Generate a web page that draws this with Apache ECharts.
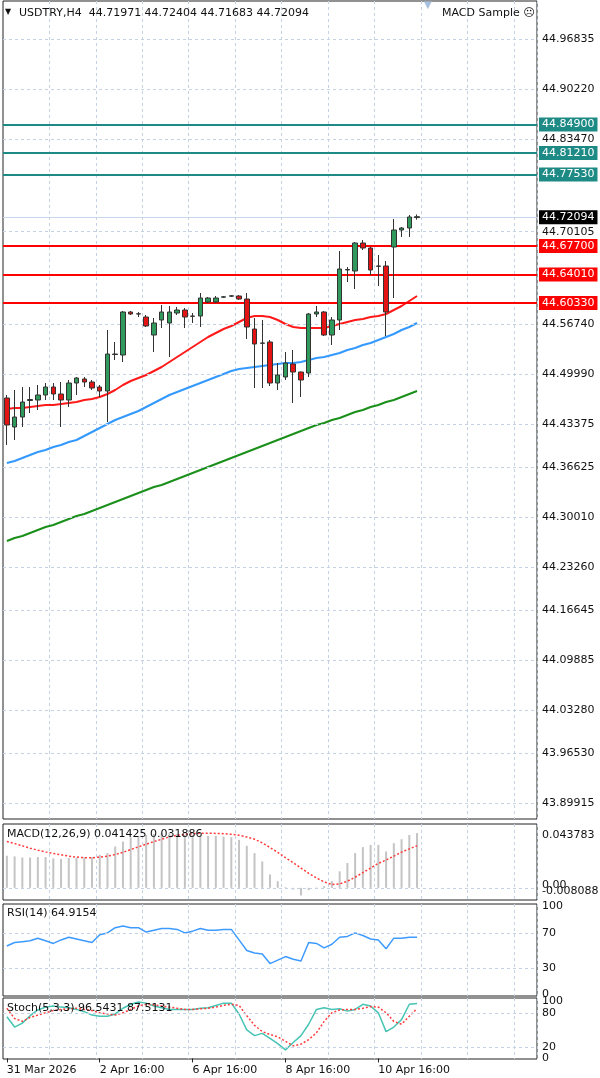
<!DOCTYPE html>
<html><head><meta charset="utf-8">
<script src="https://cdn.jsdelivr.net/npm/echarts@6/dist/echarts.min.js"></script>
<style>html,body{margin:0;padding:0;background:#fff}#c{width:600px;height:1078px}</style>
</head><body><div id="c"></div>
<script>
const opens=[44.4671,44.4265,44.4405,44.4636,44.4643,44.4713,44.4825,44.4727,44.4643,44.4881,44.4937,44.4895,44.4825,44.4769,44.5287,44.5273,44.5875,44.5847,44.5805,44.5553,44.5763,44.5721,44.5861,44.5903,44.5819,44.5819,44.6015,44.6015,44.6082,44.6096,44.6099,44.6057,44.5637,44.5441,44.5455,44.4881,44.4965,44.5147,44.5035,44.5021,44.5847,44.5875,44.5553,44.5763,44.6463,44.6449,44.6841,44.6771,44.6519,44.6519,44.6785,44.7023,44.7051,44.71971];
const closes=[44.4293,44.4405,44.4615,44.4650,44.4713,44.4825,44.4727,44.4643,44.4881,44.4951,44.4895,44.4811,44.4769,44.5287,44.5280,44.5875,44.5847,44.5850,44.5679,44.5721,44.5875,44.5875,44.5903,44.5805,44.5815,44.6071,44.6071,44.6071,44.6088,44.6102,44.6057,44.5665,44.5427,44.5437,44.4881,44.4993,44.5161,44.5035,44.4923,44.5847,44.5875,44.5553,44.5763,44.6477,44.6470,44.6841,44.6771,44.6463,44.6515,44.5875,44.7023,44.7051,44.7205,44.72094];
const lows=[44.4013,44.4083,44.4265,44.4461,44.4503,44.4643,44.4643,44.4265,44.4545,44.4713,44.4825,44.4783,44.4685,44.4335,44.5203,44.5175,44.5833,44.5805,44.5665,44.5315,44.5651,44.5245,44.5833,44.5651,44.5721,44.5665,44.6001,44.6001,44.6071,44.6085,44.6043,44.5497,44.4811,44.4811,44.4839,44.4783,44.4923,44.4601,44.4685,44.4965,44.5805,44.5539,44.5413,44.5623,44.6295,44.6197,44.6743,44.6393,44.6239,44.5539,44.6071,44.6925,44.6925,44.71683];
const highs=[44.4713,44.4783,44.4825,44.4825,44.4853,44.4881,44.4881,44.4895,44.4923,44.4965,44.4965,44.4923,44.4853,44.5623,44.5455,44.5889,44.5889,44.5875,44.5833,44.5791,44.5973,44.5959,44.5945,44.5931,44.5861,44.6141,44.6085,44.6099,44.6099,44.6113,44.6113,44.6141,44.5791,44.5763,44.5483,44.5161,44.5315,44.5343,44.5040,44.5861,44.5959,44.5889,44.5805,44.6729,44.6505,44.6855,44.6883,44.6785,44.6673,44.6589,44.7177,44.7065,44.7233,44.72404];
const maRed=[44.4517,44.4531,44.4531,44.4545,44.4559,44.4573,44.4573,44.4587,44.4601,44.4615,44.4643,44.4657,44.4685,44.4727,44.4783,44.4853,44.4909,44.4951,44.4993,44.5049,44.5105,44.5175,44.5245,44.5315,44.5385,44.5455,44.5525,44.5581,44.5637,44.5679,44.5735,44.5791,44.5819,44.5819,44.5805,44.5763,44.5707,44.5665,44.5651,44.5651,44.5651,44.5651,44.5679,44.5707,44.5735,44.5763,44.5777,44.5805,44.5819,44.5847,44.5903,44.5959,44.6029,44.6099];
const maBlue=[44.3761,44.3789,44.3831,44.3873,44.3915,44.3943,44.3985,44.4013,44.4055,44.4083,44.4139,44.4195,44.4251,44.4307,44.4363,44.4405,44.4447,44.4489,44.4545,44.4601,44.4657,44.4713,44.4755,44.4797,44.4839,44.4881,44.4923,44.4965,44.5007,44.5049,44.5077,44.5091,44.5105,44.5119,44.5133,44.5147,44.5161,44.5161,44.5175,44.5203,44.5231,44.5245,44.5273,44.5301,44.5343,44.5371,44.5413,44.5441,44.5483,44.5525,44.5567,44.5623,44.5665,44.5721];
const maGreen=[44.2669,44.2711,44.2739,44.2781,44.2823,44.2865,44.2893,44.2935,44.2977,44.3019,44.3047,44.3089,44.3131,44.3173,44.3215,44.3257,44.3299,44.3341,44.3383,44.3425,44.3453,44.3495,44.3537,44.3579,44.3621,44.3663,44.3705,44.3747,44.3789,44.3831,44.3873,44.3915,44.3957,44.3999,44.4041,44.4083,44.4125,44.4167,44.4209,44.4251,44.4293,44.4321,44.4363,44.4391,44.4433,44.4475,44.4503,44.4545,44.4573,44.4615,44.4643,44.4685,44.4727,44.4769];
const macdHist=[.0243,.0238,.0230,.0230,.0233,.0233,.0223,.0218,.0225,.0230,.0233,.0233,.0250,.0263,.0313,.0350,.0383,.0393,.0400,.0408,.0413,.0413,.0408,.0400,.0400,.0395,.0393,.0393,.0388,.0383,.0363,.0318,.0263,.0200,.0100,.0050,.0005,-.0013,-.0058,-.0018,.0003,.0013,.0050,.0125,.0188,.0263,.0308,.0325,.0325,.0275,.0338,.0368,.0400,.041425];
const macdSignal=[.0350,.0335,.0318,.0300,.0285,.0272,.0260,.0250,.0240,.0233,.0228,.0228,.0232,.0240,.0252,.0268,.0290,.0310,.0330,.0350,.0368,.0385,.0398,.0405,.0410,.0413,.0413,.0412,.0410,.0405,.0398,.0385,.0368,.0340,.0305,.0268,.0228,.0190,.0150,.0110,.0075,.0045,.0025,.0030,.0050,.0080,.0115,.0150,.0185,.0210,.0240,.0270,.0295,.031886];
const rsi=[55,59,60,61,64,61,58,62,65,63,61,59,68,70,76,78,76,76,71,73,75,75,74,70,72,75,73,73,74,74,62,50,47,46,35,39,43,40,38,59,58,53,57,65,66,70,67,63,62,52,64,64,65,64.9154];
const stochMain=[73,55,62,75,85,90,92,90,89,86,82,76,74,74,78,88,95,99,97,92,89,86,86,86,86,88,89,93,97,97,78,50,40,44,35,26,15,28,40,60,86,89,86,87,83,86,95,92,80,47,55,68,95,96.5431];
const stochSignal=[88,70,65,72,76,80,84,86,87,88,86,84,80,78,76,80,86,92,95,94,92,90,88,86,86,87,88,90,93,95,93,75,58,47,42,38,30,22,25,33,45,65,80,85,86,86,88,91,90,80,65,60,74,87.5131];
const priceTicks=[44.96835,44.90220,44.83470,44.70105,44.56740,44.49990,44.43375,44.36625,44.30010,44.23260,44.16645,44.09885,44.03280,43.96530,43.89915];
const tealLevels=[44.84900,44.81210,44.77530];
const redLevels=[44.67700,44.64010,44.60330];
const lastPrice=44.72094;
const xTickIdx=[0,12,24,36,48];
const xTickText=['31 Mar 2026','2 Apr 16:00','6 Apr 16:00','8 Apr 16:00','10 Apr 16:00'];
const NCAT=69;

const cats=[];for(let i=0;i<NCAT;i++){const k=xTickIdx.indexOf(i);cats.push(k>=0?xTickText[k]:'c'+i);}
const candle=opens.map((o,i)=>[o,closes[i],lows[i],highs[i]]);
const F='DejaVu Sans';
const gridC='#c5d2e4';
const grids=[{top:1,height:818},{top:824,height:76},{top:904,height:92},{top:998,height:61}].map(g=>Object.assign({left:3,right:63,show:true,borderColor:'#222',borderWidth:1,backgroundColor:'#fff'},g));
const xAxes=grids.map((g,gi)=>({type:'category',gridIndex:gi,data:cats,boundaryGap:true,
  axisLine:{show:false},
  axisTick:{show:gi===3,alignWithLabel:true,interval:(i)=>xTickIdx.includes(i),length:4,lineStyle:{color:'#222'}},
  axisLabel:{show:gi===3,interval:(i)=>xTickIdx.includes(i),formatter:v=>xTickText.includes(v)?v:'',align:'left',margin:6,color:'#111',fontFamily:F,fontSize:11},
  splitLine:{show:true,interval:(i)=>i%6===0&&i>0,lineStyle:{color:gridC,type:[3,3]}}}));
function tickLines(vals,fmt,withLine,off){return vals.map(v=>({yAxis:v,lineStyle:withLine?{color:gridC,type:[3,3],width:1}:{color:'rgba(0,0,0,0)',width:0},label:{show:true,position:'end',distance:5,formatter:fmt(v),color:'#111',fontFamily:F,fontSize:11,offset:off||[0,0]}}));}
const yAxes=[
 {type:'value',gridIndex:0,min:43.8777,max:45.0229,show:false},
 {type:'value',gridIndex:1,min:-0.0092,max:0.0483,show:false},
 {type:'value',gridIndex:2,min:-2,max:103,show:false},
 {type:'value',gridIndex:3,min:-1,max:106,show:false}];
const levelLine=(v,c,tc,lc,w)=>({yAxis:v,lineStyle:{color:lc,type:'solid',width:w},label:{show:true,position:'end',distance:2,formatter:v.toFixed(5),color:tc,backgroundColor:c,padding:[2,3,1,3],fontFamily:F,fontSize:11}});
const mainMarks=[].concat(
 tickLines(priceTicks,v=>v.toFixed(5),true),
 tealLevels.map(v=>levelLine(v,'#1e8a85','#fff','#1e8a85',2)),
 redLevels.map(v=>levelLine(v,'#ff0000','#fff','#ff0000',2)),
 [levelLine(lastPrice,'#000','#fff','#c8d6ec',1)]);
const series=[
 {type:'candlestick',xAxisIndex:0,yAxisIndex:0,data:candle,barWidth:5,
  itemStyle:{color:'#2f9a5c',color0:'#e51414',borderColor:'#333',borderColor0:'#333',borderWidth:1},
  markLine:{silent:true,symbol:['none','none'],animation:false,data:mainMarks},z:5},
 {type:'line',xAxisIndex:0,yAxisIndex:0,data:maRed,showSymbol:false,lineStyle:{color:'#ff1a1a',width:2},z:3},
 {type:'line',xAxisIndex:0,yAxisIndex:0,data:maBlue,showSymbol:false,lineStyle:{color:'#3399ff',width:2},z:3},
 {type:'line',xAxisIndex:0,yAxisIndex:0,data:maGreen,showSymbol:false,lineStyle:{color:'#1a8f1a',width:2},z:3},
 {type:'bar',xAxisIndex:1,yAxisIndex:1,data:macdHist,barWidth:2,itemStyle:{color:'#c4c4c4'},
  markLine:{silent:true,symbol:['none','none'],animation:false,data:[].concat(
   tickLines([0],()=> '0.00',true,[0,-3]),
   tickLines([0],()=> '-0.008088',false,[0,3]),
   tickLines([0.043783],()=> '0.043783',false))}},
 {type:'line',xAxisIndex:1,yAxisIndex:1,data:macdSignal,showSymbol:false,lineStyle:{color:'#ff3b3b',width:1.5,type:[2,2]}},
 {type:'line',xAxisIndex:2,yAxisIndex:2,data:rsi,showSymbol:false,lineStyle:{color:'#3d9bff',width:1.5},
  markLine:{silent:true,symbol:['none','none'],animation:false,data:[].concat(tickLines([70,30],v=>String(v),true),tickLines([100,0],v=>String(v),false))}},
 {type:'line',xAxisIndex:3,yAxisIndex:3,data:stochMain,showSymbol:false,lineStyle:{color:'#46c4b4',width:1.5},
  markLine:{silent:true,symbol:['none','none'],animation:false,data:[].concat(tickLines([80,20],v=>String(v),true),tickLines([100,0],v=>String(v),false))}},
 {type:'line',xAxisIndex:3,yAxisIndex:3,data:stochSignal,showSymbol:false,lineStyle:{color:'#ff3b3b',width:1.5,type:[2,2]}}
];
const txt=(x,y,t,extra)=>Object.assign({type:'text',left:x,top:y,z:100,style:{text:t,fill:'#111',font:'11px "DejaVu Sans"'}},extra||{});
const chart=echarts.init(document.getElementById('c'),null,{renderer:'canvas'});
chart.setOption({animation:false,backgroundColor:'#fff',grid:grids,xAxis:xAxes,yAxis:yAxes,series:series,
 graphic:[
  txt(5,8,'▼',{style:{text:'▼',fill:'#111',font:'8px "DejaVu Sans"'}}),
  txt(19,8,'USDTRY,H4  44.71971 44.72404 44.71683 44.72094'),
  txt(424,0,'▼',{style:{text:'▼',fill:'#a8c0e0',font:'10px "DejaVu Sans"'}}),
  txt(442,8,'MACD Sample ☹'),
  txt(7,829,'MACD(12,26,9) 0.041425 0.031886'),
  txt(7,908,'RSI(14) 64.9154'),
  txt(7,1003,'Stoch(5,3,3) 96.5431 87.5131')
 ]});
</script></body></html>
